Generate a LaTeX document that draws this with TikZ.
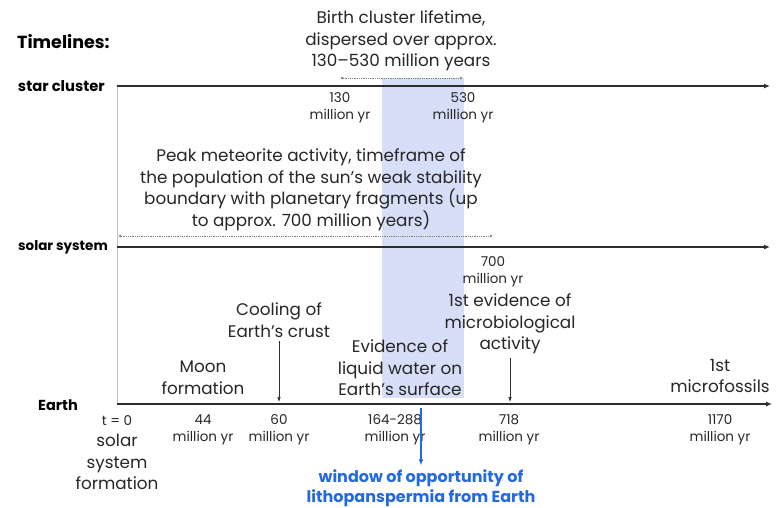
\documentclass[tikz,border=0pt]{standalone}
\usepackage{fontspec}
\setmainfont{Poppins}
\usepackage{xcolor}
\usetikzlibrary{positioning,arrows.meta}
\definecolor{shadeblue}{RGB}{214,222,248}
\definecolor{winblue}{RGB}{35,105,225}
\definecolor{axisgray}{RGB}{45,45,45}

\begin{document}
\begin{tikzpicture}[x=1pt,y=-1pt,
    every node/.style={inner sep=0pt, align=center},
    event/.style={font=\fontsize{16.8}{21.5}\selectfont, text=black!85},
    tick/.style={font=\fontsize{13.5}{17}\selectfont, text=black!85},
    lane/.style={font=\bfseries\fontsize{13.5}{16}\selectfont, anchor=east},
    axis/.style={line width=1.5pt, draw=axisgray, -{Latex[length=6pt,width=5pt]}},
    span/.style={densely dotted, draw=gray, line width=0.8pt, {Latex[length=3pt,width=3pt]}-{Latex[length=3pt,width=3pt]}},
    marker/.style={line width=0.6pt, draw=axisgray, -{Latex[length=5pt,width=3.5pt]}}]
    \useasboundingbox (0,0) rectangle (776,507);
    \fill[shadeblue] (382,78) rectangle (464,398);

    \node[anchor=west, font=\bfseries\fontsize{17.5}{20}\selectfont] (title) at (17,42) {Timelines:};
    \node[lane, font=\bfseries\fontsize{14.8}{16}\selectfont] (lcluster) at (105,86) {star cluster};
    \node[lane] (lsolar) at (108,247) {solar system};
    \node[lane, font=\bfseries\fontsize{14.5}{16}\selectfont] (learth) at (78,405) {Earth};

    \coordinate (c0) at (117,86);  \coordinate (c1) at (770,86);
    \coordinate (s0) at (117,247); \coordinate (s1) at (770,247);
    \coordinate (e0) at (117,404); \coordinate (e1) at (772,404);
    \draw[gray!50, line width=0.5pt] (c0) -- (e0);
    \draw[axis] (c0) -- (c1);
    \draw[axis] (s0) -- (s1);
    \draw[axis] (e0) -- (e1);

    \coordinate (b0) at (340,78); \coordinate (b1) at (463,78);
    \draw[span] (b0) -- (b1);
    \coordinate (p0) at (118,236); \coordinate (p1) at (493,236);
    \draw[span] (p0) -- (p1);

    \node[event] (birth) at (401,41) {Birth cluster lifetime,\\dispersed over approx.\\130–530 million years};
    \node[tick] (t130) at (340,108) {130\\million yr};
    \node[tick] (t530) at (463,108) {530\\million yr};
    \node[event] (peak) at (311,190) {Peak meteorite activity, timeframe of\\the population of the sun's weak stability\\boundary with planetary fragments (up\\to approx. 700 million years)};
    \node[tick] (t700) at (493,272) {700\\million yr};

    \node[event] (cool) at (279,320) {Cooling of\\Earth's crust};
    \node[event] (moon) at (203,378) {Moon\\formation};
    \node[event] (water) at (400,368) {Evidence of\\liquid water on\\Earth's surface};
    \node[event] (micro) at (510,324) {1st evidence of\\microbiological\\activity};
    \node[event] (fossil) at (720,376) {1st\\microfossils};
    \coordinate (m60) at (279,402);
    \coordinate (m718) at (510,402);
    \draw[marker] ([yshift=-4pt]cool.south) -- (m60);
    \draw[marker] ([yshift=-4pt]micro.south) -- (m718);

    \node[tick] (t0) at (117,421) {t = 0};
    \node[event] (tform) at (117,462) {solar\\system\\formation};
    \node[tick] (t44) at (203,430) {44\\million yr};
    \node[tick] (t60) at (279,430) {60\\million yr};
    \node[tick] (t164) at (395,430) {164-288\\million yr};
    \node[tick] (t718) at (509,430) {718\\million yr};
    \node[tick] (t1170) at (720,430) {1170\\million yr};

    \coordinate (w0) at (421,408);
    \node[font=\bfseries\fontsize{16}{20}\selectfont, text=winblue] (window) at (421,488) {window of opportunity of\\lithopanspermia from Earth};
    \draw[winblue, line width=1.6pt, -{Latex[length=6pt,width=5pt]}] (w0) -- ([yshift=4pt]window.north);
\end{tikzpicture}
\end{document}
